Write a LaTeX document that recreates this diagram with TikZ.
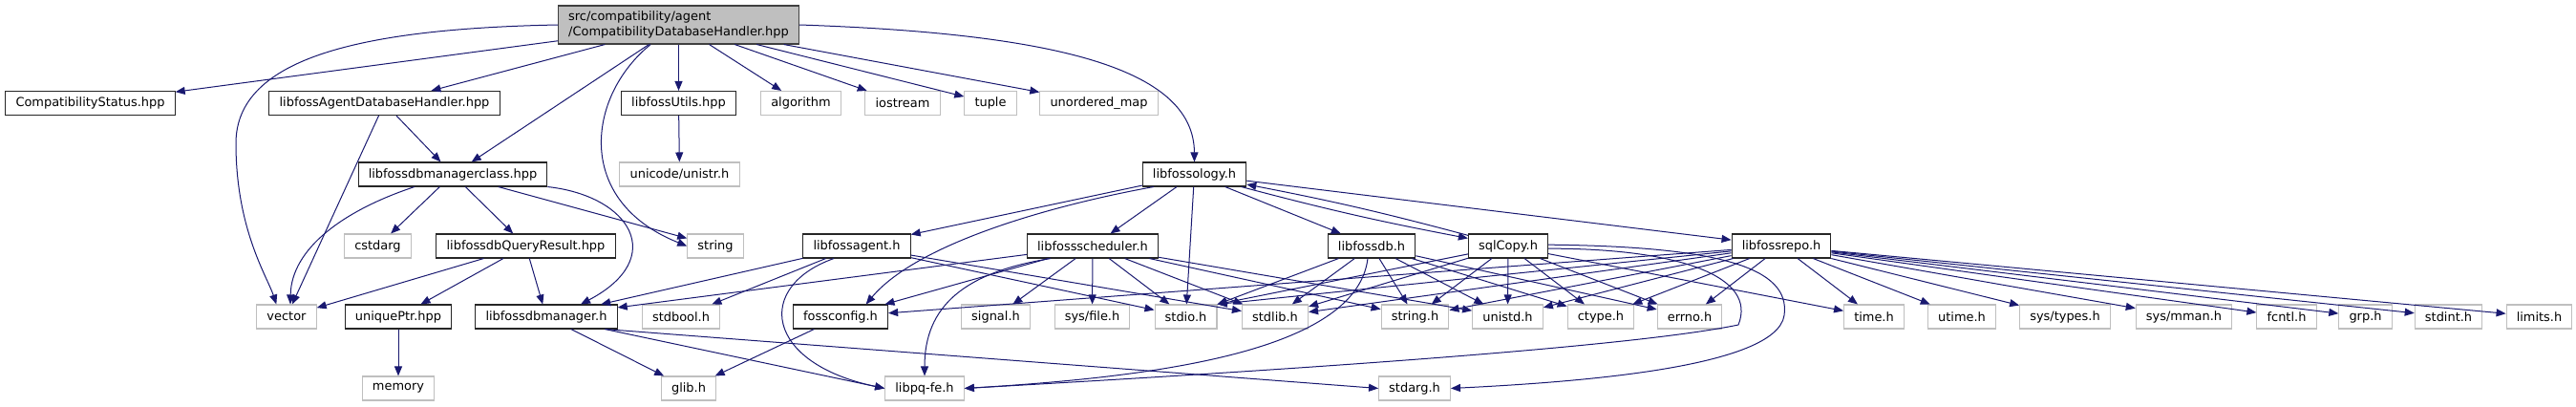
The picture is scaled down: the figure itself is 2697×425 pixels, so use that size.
\documentclass[tikz,border=0pt]{standalone}
\usepackage{fontspec}
\setmainfont{DejaVu Sans}
\usetikzlibrary{arrows.meta}
\definecolor{edgeblue}{RGB}{25,25,112}
\definecolor{extgray}{RGB}{191,191,191}
\definecolor{rootfill}{RGB}{191,191,191}
\definecolor{rootline}{RGB}{64,64,64}

\begin{document}
\begin{tikzpicture}[x=0.75pt, y=-0.75pt,
    every node/.style={font=\fontsize{9.7}{12}\selectfont, inner xsep=8pt, inner ysep=0pt, minimum height=18.75pt, line width=0.8pt},
    doc/.style={draw=black!85, fill=white},
    ext/.style={draw=extgray, fill=white},
    rootbox/.style={draw=rootline, fill=rootfill, align=left, minimum height=30pt},
    incl/.style={draw=edgeblue, line width=0.75pt, -{Triangle[length=7.5pt,width=6pt]}}]
    \useasboundingbox (0,0) rectangle (2697,425);

    \node[rootbox] (root) at (710.5,26) {src/compatibility/agent\\/CompatibilityDatabaseHandler.hpp};

    \node[doc] (cstatus) at (94.5,108) {CompatibilityStatus.hpp};
    \node[doc] (agentdbh) at (402.5,108) {libfossAgentDatabaseHandler.hpp};
    \node[doc] (utilshpp) at (710.5,108) {libfossUtils.hpp};
    \node[ext] (algorithm) at (838.5,108) {algorithm};
    \node[ext] (iostream) at (945,108) {iostream};
    \node[ext] (tuple) at (1037,108) {tuple};
    \node[ext] (umap) at (1150.5,108) {unordered\_map};

    \node[doc] (dbmclass) at (474,182.5) {libfossdbmanagerclass.hpp};
    \node[ext] (unistr) at (711.5,182.5) {unicode/unistr.h};
    \node[doc] (libfossology) at (1250.5,182.5) {libfossology.h};

    \node[ext] (cstdarg) at (395.5,257.5) {cstdarg};
    \node[doc] (queryres) at (550.5,257.5) {libfossdbQueryResult.hpp};
    \node[ext] (string) at (749,257.5) {string};
    \node[doc] (libfossagent) at (897,257.5) {libfossagent.h};
    \node[doc] (scheduler) at (1144,257.5) {libfossscheduler.h};
    \node[doc] (libfossdb) at (1436,257.5) {libfossdb.h};
    \node[doc] (sqlcopy) at (1579,257.5) {sqlCopy.h};
    \node[doc] (libfossrepo) at (1865,257.5) {libfossrepo.h};

    \node[ext] (vector) at (300,331.5) {vector};
    \node[doc] (uniqueptr) at (417,331.5) {uniquePtr.hpp};
    \node[doc] (dbmanager) at (572,331.5) {libfossdbmanager.h};
    \node[ext] (stdbool) at (713,331.5) {stdbool.h};
    \node[doc] (fossconfig) at (880,331.5) {fossconfig.h};
    \node[ext] (signal) at (1042.5,331.5) {signal.h};
    \node[ext] (sysfile) at (1143.5,331.5) {sys/file.h};
    \node[ext] (stdio) at (1241.5,331.5) {stdio.h};
    \node[ext] (stdlib) at (1335,331.5) {stdlib.h};
    \node[ext] (stringh) at (1481.5,331.5) {string.h};
    \node[ext] (unistd) at (1578.5,331.5) {unistd.h};
    \node[ext] (ctype) at (1676,331.5) {ctype.h};
    \node[ext] (errno) at (1769,331.5) {errno.h};
    \node[ext] (timeh) at (1962,331.5) {time.h};
    \node[ext] (utime) at (2054,331.5) {utime.h};
    \node[ext] (systypes) at (2162,331.5) {sys/types.h};
    \node[ext] (sysmman) at (2286.5,331.5) {sys/mman.h};
    \node[ext] (fcntl) at (2394,331.5) {fcntl.h};
    \node[ext] (grp) at (2476.5,331.5) {grp.h};
    \node[ext] (stdint) at (2563.5,331.5) {stdint.h};
    \node[ext] (limits) at (2658.5,331.5) {limits.h};

    \node[ext] (memory) at (417,406.5) {memory};
    \node[ext] (glib) at (721,406.5) {glib.h};
    \node[ext] (libpqfe) at (968,406.5) {libpq-fe.h};
    \node[ext] (stdarg) at (1481,406.5) {stdarg.h};

    % root includes
    \draw[incl] (root) -- (cstatus);
    \draw[incl] (root) -- (agentdbh);
    \draw[incl] (root) -- (dbmclass);
    \draw[incl] (root) -- (utilshpp);
    \draw[incl] (root) -- (algorithm);
    \draw[incl] (root) -- (iostream);
    \draw[incl] (root) -- (tuple);
    \draw[incl] (root) -- (umap);
    \draw[incl] (root.west) .. controls (380,30) and (247,60) .. (247,150) .. controls (247,240) and (280,290) .. ([xshift=-8pt]vector.north);
    \draw[incl] ([xshift=-22pt]root.south) .. controls (615,100) and (600,210) .. (string.west);
    \draw[incl] (root.east) .. controls (1100,35) and (1250,70) .. (libfossology.north);

    \draw[incl] (agentdbh) -- (dbmclass);
    \draw[incl] (agentdbh) -- (vector);
    \draw[incl] (utilshpp) -- (unistr);

    \draw[incl] ([xshift=-30pt]dbmclass.south) .. controls (360,220) and (305,260) .. ([xshift=3pt]vector.north);
    \draw[incl] (dbmclass) -- (cstdarg);
    \draw[incl] (dbmclass) -- (queryres);
    \draw[incl] (dbmclass) -- (string);
    \draw[incl] (dbmclass.south east) .. controls (660,205) and (700,270) .. ([xshift=27pt]dbmanager.north);

    \draw[incl] (queryres) -- (vector);
    \draw[incl] (queryres) -- (uniqueptr);
    \draw[incl] (queryres) -- (dbmanager);
    \draw[incl] (uniqueptr) -- (memory);

    \draw[incl] (dbmanager) -- (glib);
    \draw[incl] ([xshift=-10pt]dbmanager.south east) -- (libpqfe.west);
    \draw[incl] ([xshift=-10pt]dbmanager.south east) -- (stdarg.west);
    \draw[incl] (fossconfig) -- (glib);

    % libfossology.h
    \draw[incl] (libfossology) -- (libfossagent);
    \draw[incl] ([xshift=-32pt]libfossology.south) .. controls (1100,215) and (960,255) .. ([xshift=20pt]fossconfig.north);
    \draw[incl] (libfossology) -- (scheduler);
    \draw[incl] (libfossology) -- (stdio);
    \draw[incl] (libfossology) -- (libfossdb);
    \draw[incl] (libfossology) to[bend right=2] (sqlcopy);
    \draw[incl] (sqlcopy) to[bend right=2] (libfossology);
    \draw[incl] (libfossology) -- (libfossrepo);

    \draw[incl] (libfossagent) -- (dbmanager);
    \draw[incl] (libfossagent) -- (stdbool);
    \draw[incl] ([xshift=-18pt]libfossagent.south) .. controls (790,300) and (800,380) .. (libpqfe.west);
    \draw[incl] (libfossagent) -- (stdio);
    \draw[incl] (libfossagent) -- (stdlib);

    \draw[incl] (scheduler) -- (dbmanager);
    \draw[incl] (scheduler) -- (fossconfig);
    \draw[incl] ([xshift=-33pt]scheduler.south) .. controls (1010,285) and (968,320) .. (libpqfe.north);
    \draw[incl] (scheduler) -- (signal);
    \draw[incl] (scheduler) -- (sysfile);
    \draw[incl] (scheduler) -- (stdio);
    \draw[incl] (scheduler) -- (stdlib);
    \draw[incl] (scheduler) -- (stringh);
    \draw[incl] (scheduler) -- (unistd);

    \draw[incl] (libfossdb) -- (stdio.north east);
    \draw[incl] (libfossdb) -- (stdlib);
    \draw[incl] ([xshift=-3pt]libfossdb.south) .. controls (1420,370) and (1200,395) .. (libpqfe.east);
    \draw[incl] (libfossdb) -- (stringh);
    \draw[incl] (libfossdb) -- (unistd);
    \draw[incl] (libfossdb) -- (ctype);
    \draw[incl] (libfossdb) -- (errno);

    \draw[incl] (sqlcopy) -- (stdio.north east);
    \draw[incl] (sqlcopy) -- (stdlib);
    \draw[incl] (sqlcopy) -- (stringh);
    \draw[incl] (sqlcopy) -- (unistd);
    \draw[incl] (sqlcopy) -- (ctype);
    \draw[incl] (sqlcopy) -- (errno);
    \draw[incl] (sqlcopy) -- (timeh);
    \draw[incl] ([yshift=-2pt]sqlcopy.east) .. controls (1760,260) and (1840,290) .. (1820,340) .. controls (1700,365) and (1300,390) .. (libpqfe.east);
    \draw[incl] ([yshift=1pt]sqlcopy.east) .. controls (1800,258) and (1875,280) .. (1868,330) .. controls (1860,385) and (1650,400) .. (stdarg.east);

    % libfossrepo.h
    \draw[incl] (libfossrepo) -- (fossconfig);
    \draw[incl] (libfossrepo) -- (stdio.north east);
    \draw[incl] (libfossrepo) -- (stdlib);
    \draw[incl] (libfossrepo) -- (stringh);
    \draw[incl] (libfossrepo) -- (unistd);
    \draw[incl] (libfossrepo) -- (ctype);
    \draw[incl] (libfossrepo) -- (errno);
    \draw[incl] (libfossrepo) -- (timeh);
    \draw[incl] (libfossrepo) -- (utime);
    \draw[incl] (libfossrepo) -- (systypes);
    \draw[incl] (libfossrepo) -- (sysmman);
    \draw[incl] (libfossrepo) -- (fcntl);
    \draw[incl] (libfossrepo) -- (grp);
    \draw[incl] (libfossrepo) -- (stdint);
    \draw[incl] (libfossrepo) -- (limits);
\end{tikzpicture}
\end{document}
